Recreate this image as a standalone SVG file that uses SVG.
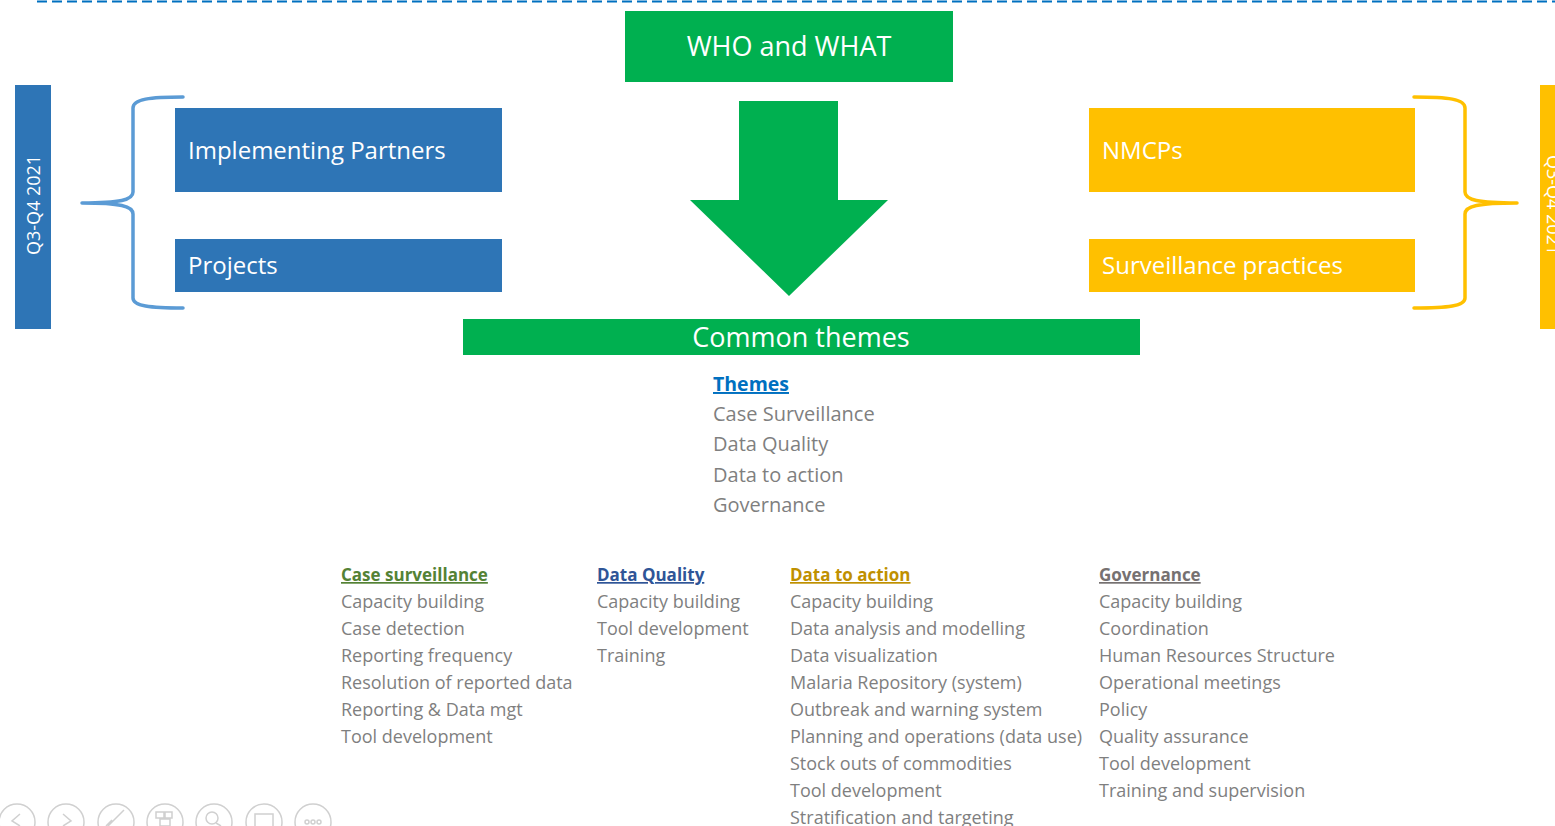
<svg xmlns="http://www.w3.org/2000/svg" width="1555" height="826" viewBox="0 0 1555 826">
<style>
text{font-family:"Open Sans","Noto Sans",sans-serif}
.wt{fill:#fff}
.gt{fill:#7f7f7f;font-size:18px}
.th{fill:#7f7f7f;font-size:20px}
.hd{font-size:17px;font-weight:bold;text-decoration:underline}
.brace{fill:none;stroke-width:3.5;stroke-linecap:round;stroke-linejoin:round}
.ic{fill:none;stroke:#d0d0d0;stroke-width:1.5}
</style>
<rect width="1555" height="826" fill="#fff"/>
<line x1="37" y1="1.5" x2="1555" y2="1.5" stroke="#0070c0" stroke-width="2" stroke-dasharray="10,5"/>

<g id="sidebar-left">
<rect x="15" y="85" width="36" height="244" fill="#2e75b6"/>
<text class="wt" font-size="18" transform="translate(40,205) rotate(-90)" text-anchor="middle">Q3-Q4 2021</text>
</g>
<g id="sidebar-right">
<rect x="1540" y="85" width="20" height="244" fill="#ffc000"/>
<text class="wt" font-size="18" transform="translate(1547,205) rotate(90)" text-anchor="middle">Q3-Q4 2021</text>
</g>

<g id="brace-left">
<path class="brace" stroke="#5b9bd5" d="M183,97 C150,97 133,99 133,108 L133,192 C133,200 120,203 82,203 C120,203 133,206 133,214 L133,298 C133,306 150,308 183,308"/>
</g>
<g id="brace-right">
<path class="brace" stroke="#ffc000" d="M1414,97 C1448,97 1465,99 1465,108 L1465,192 C1465,200 1478,203 1517,203 C1478,203 1465,206 1465,214 L1465,298 C1465,306 1448,308 1414,308"/>
</g>

<g id="implementing-partners">
<rect x="175" y="108" width="327" height="84" fill="#2e75b6"/>
<text class="wt" x="188" y="159" font-size="24">Implementing Partners</text>
</g>
<g id="projects">
<rect x="175" y="239" width="327" height="53" fill="#2e75b6"/>
<text class="wt" x="188" y="274" font-size="24">Projects</text>
</g>
<g id="nmcps">
<rect x="1089" y="108" width="326" height="84" fill="#ffc000"/>
<text class="wt" x="1102" y="159" font-size="24">NMCPs</text>
</g>
<g id="surveillance-practices">
<rect x="1089" y="239" width="326" height="53" fill="#ffc000"/>
<text class="wt" x="1102" y="274" font-size="24">Surveillance practices</text>
</g>

<g id="who-and-what">
<rect x="625" y="11" width="328" height="71" fill="#00b050"/>
<text class="wt" x="789" y="56" font-size="27" text-anchor="middle">WHO and WHAT</text>
</g>

<g id="connectors">
<polygon points="739,101 838,101 838,200 888,200 789,296 690,200 739,200" fill="#00b050"/>
</g>

<g id="common-themes">
<rect x="463" y="319" width="677" height="36" fill="#00b050"/>
<text class="wt" x="801" y="347" font-size="27" text-anchor="middle">Common themes</text>
</g>

<g id="themes-list">
<text x="713" y="391" font-size="19.5" font-weight="bold" fill="#0070c0" text-decoration="underline">Themes</text>
<text class="th" x="713" y="421">Case Surveillance</text>
<text class="th" x="713" y="451">Data Quality</text>
<text class="th" x="713" y="482">Data to action</text>
<text class="th" x="713" y="512">Governance</text>
</g>

<g id="col-case-surveillance">
<text class="hd" x="341" y="581" fill="#548235">Case surveillance</text>
<text class="gt" x="341" y="608">Capacity building</text>
<text class="gt" x="341" y="635">Case detection</text>
<text class="gt" x="341" y="662">Reporting frequency</text>
<text class="gt" x="341" y="689">Resolution of reported data</text>
<text class="gt" x="341" y="716">Reporting &amp; Data mgt</text>
<text class="gt" x="341" y="743">Tool development</text>
</g>
<g id="col-data-quality">
<text class="hd" x="597" y="581" fill="#2f5597">Data Quality</text>
<text class="gt" x="597" y="608">Capacity building</text>
<text class="gt" x="597" y="635">Tool development</text>
<text class="gt" x="597" y="662">Training</text>
</g>
<g id="col-data-to-action">
<text class="hd" x="790" y="581" fill="#bf9000">Data to action</text>
<text class="gt" x="790" y="608">Capacity building</text>
<text class="gt" x="790" y="635">Data analysis and modelling</text>
<text class="gt" x="790" y="662">Data visualization</text>
<text class="gt" x="790" y="689">Malaria Repository (system)</text>
<text class="gt" x="790" y="716">Outbreak and warning system</text>
<text class="gt" x="790" y="743">Planning and operations (data use)</text>
<text class="gt" x="790" y="770">Stock outs of commodities</text>
<text class="gt" x="790" y="797">Tool development</text>
<text class="gt" x="790" y="824">Stratification and targeting</text>
</g>
<g id="col-governance">
<text class="hd" x="1099" y="581" fill="#767171">Governance</text>
<text class="gt" x="1099" y="608">Capacity building</text>
<text class="gt" x="1099" y="635">Coordination</text>
<text class="gt" x="1099" y="662">Human Resources Structure</text>
<text class="gt" x="1099" y="689">Operational meetings</text>
<text class="gt" x="1099" y="716">Policy</text>
<text class="gt" x="1099" y="743">Quality assurance</text>
<text class="gt" x="1099" y="770">Tool development</text>
<text class="gt" x="1099" y="797">Training and supervision</text>
</g>

<g id="toolbar">
<circle class="ic" cx="17" cy="822" r="18"/>
<path class="ic" d="M20,814 L12,821 L20,826"/>
<circle class="ic" cx="66" cy="822" r="18"/>
<path class="ic" d="M63,814 L71,821 L63,826"/>
<circle class="ic" cx="116" cy="822" r="18"/>
<path class="ic" d="M108,826 L124,810 M106,826 L112,820"/>
<circle class="ic" cx="165" cy="822" r="18"/>
<path class="ic" d="M156,812 h8 v6 h-8 z M165,812 h7 v6 h-7 z M160,819 h10 v7 h-10 z"/>
<circle class="ic" cx="214" cy="822" r="18"/>
<circle class="ic" cx="212" cy="818" r="6"/>
<path class="ic" d="M216,823 L221,826"/>
<circle class="ic" cx="264" cy="822" r="18"/>
<rect class="ic" x="255" y="814" width="18" height="13"/>
<circle class="ic" cx="313" cy="822" r="18"/>
<circle class="ic" cx="307" cy="822" r="2"/>
<circle class="ic" cx="313" cy="822" r="2"/>
<circle class="ic" cx="319" cy="822" r="2"/>
</g>
</svg>
